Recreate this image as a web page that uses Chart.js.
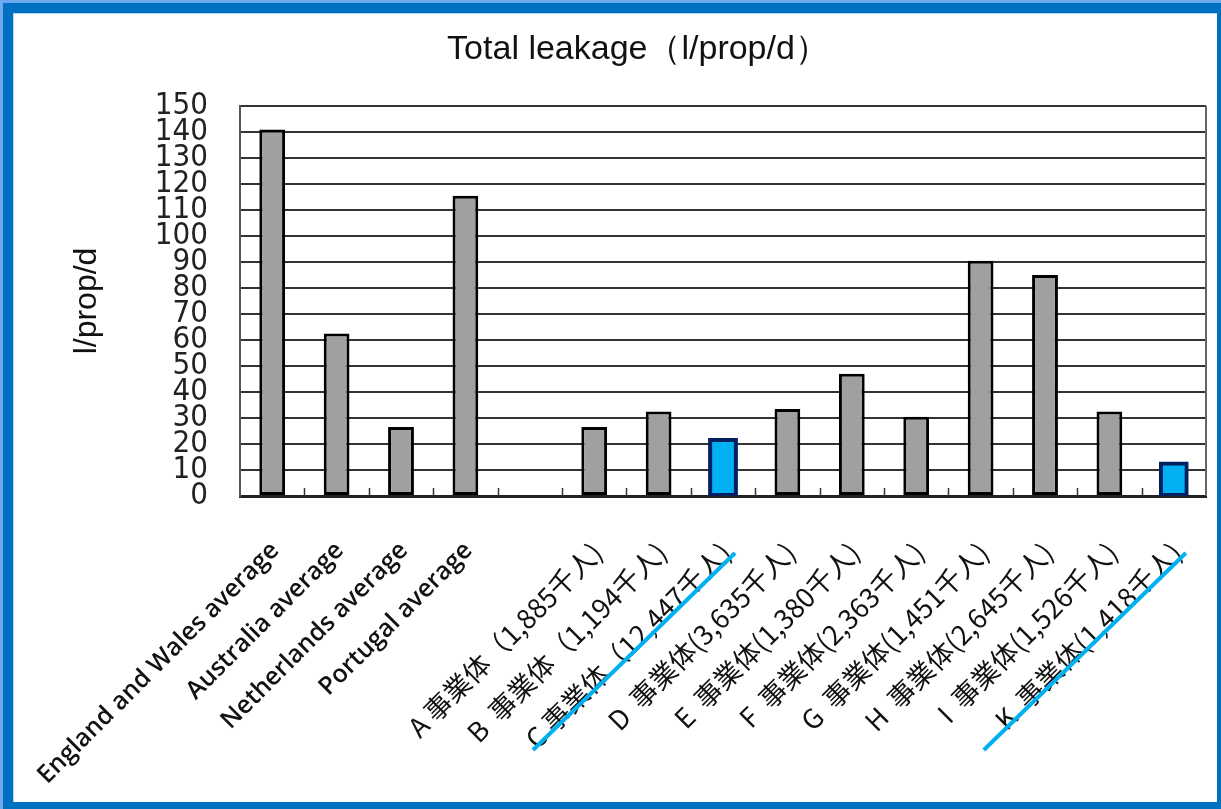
<!DOCTYPE html>
<html>
<head>
<meta charset="utf-8">
<title>Total leakage</title>
<script src="https://cdn.jsdelivr.net/npm/chart.js@4.4.1/dist/chart.umd.min.js"></script>
<style>
  html, body { margin: 0; padding: 0; background: #ffffff; }
  #frame { position: absolute; left: 0; top: 0; width: 1221px; height: 809px; background: #6fa8ee; }
  #panel {
    position: absolute; left: 3px; top: 3px; right: 0; bottom: 0;
    border-style: solid; border-color: #0070c0; border-width: 10px 4px 7px 10px;
    background: #ffffff;
  }
  #panel::before {
    content: ""; position: absolute; left: 0; top: 0; right: 0; bottom: 0;
    border-left: 1px solid #b7d3f3; border-top: 1px solid #b7d3f3;
  }
  #chart { position: absolute; left: 0; top: 0; }
</style>
</head>
<body>
<div id="frame"><div id="panel"></div></div>
<canvas id="chart" width="1221" height="809"></canvas>
<script>
// Total leakage per property per day (l/prop/d)
const categories = [
  'England and Wales average',
  'Australia average',
  'Netherlands average',
  'Portugal average',
  '',
  'A 事業体（1,885千人)',
  'B  事業体（1,194千人)',
  'C 事業体（12,447千人)',
  'D  事業体(3,635千人)',
  'E  事業体(1,380千人)',
  'F  事業体(2,363千人)',
  'G  事業体(1,451千人)',
  'H  事業体(2,645千人)',
  'I  事業体(1,526千人)',
  'K  事業体(1,418千人)'
];
const leakage = [141, 62.5, 26.5, 115.5, null, 26.5, 32.5, 21.5, 33.5, 47, 30.5, 90.5, 85, 32.5, 12.5];
const highlighted = ['C 事業体（12,447千人)', 'K  事業体(1,418千人)'];
const yMin = 0;
const yMax = 150;
const yStep = 10;

const titleText = 'Total leakage（l/prop/d）';
const yAxisTitle = 'l/prop/d';

const isHighlighted = (i) => highlighted.includes(categories[i]);
const hasCJK = (s) => /[\u3000-\u9fff\uff00-\uffef]/.test(s);

// Chart heading, drawn in the space reserved by the top layout padding.
const heading = {
  id: 'heading',
  afterDraw(chart) {
    const { ctx } = chart;
    ctx.save();
    ctx.fillStyle = '#111111';
    ctx.font = "normal 34px 'Liberation Sans', 'DejaVu Sans', sans-serif";
    ctx.textAlign = 'center';
    ctx.textBaseline = 'middle';
    ctx.fillText(titleText, 638, 50);
    ctx.restore();
  }
};

// Plot frame details: inner tick marks between categories, right edge,
// and the blue underline beneath highlighted category labels.
const frameDetails = {
  id: 'frameDetails',
  afterDatasetsDraw(chart) {
    const { ctx, chartArea } = chart;
    const x = chart.scales.x;
    ctx.save();
    ctx.strokeStyle = '#333333';
    ctx.lineWidth = 1.5;
    for (let i = 1; i < categories.length; i++) {
      const px = Math.round((x.getPixelForValue(i - 1) + x.getPixelForValue(i)) / 2) + 0.5;
      ctx.beginPath();
      ctx.moveTo(px, chartArea.bottom);
      ctx.lineTo(px, chartArea.bottom - 8);
      ctx.stroke();
    }
    ctx.strokeStyle = '#666666';
    ctx.lineWidth = 2;
    ctx.beginPath();
    ctx.moveTo(chartArea.right, chartArea.top);
    ctx.lineTo(chartArea.right, chartArea.bottom);
    ctx.stroke();
    ctx.restore();
  },
  afterDraw(chart) {
    const { ctx, chartArea } = chart;
    const x = chart.scales.x;
    ctx.save();
    ctx.strokeStyle = '#00b0f0';
    ctx.lineWidth = 4;
    categories.forEach((c, i) => {
      if (!isHighlighted(i)) return;
      const cx = x.getPixelForValue(i);
      ctx.beginPath();
      ctx.moveTo(cx - 190, chartArea.bottom + 254);
      ctx.lineTo(cx + 12, chartArea.bottom + 57);
      ctx.stroke();
    });
    ctx.restore();
  }
};

new Chart(document.getElementById('chart'), {
  type: 'bar',
  data: {
    labels: categories,
    datasets: [{
      label: 'Total leakage',
      data: leakage,
      backgroundColor: (c) => isHighlighted(c.dataIndex) ? '#00b0f0' : '#a0a0a0',
      borderColor: (c) => isHighlighted(c.dataIndex) ? '#002060' : '#000000',
      borderWidth: (c) => isHighlighted(c.dataIndex) ? 4 : 3,
      inflateAmount: (c) => isHighlighted(c.dataIndex) ? 2 : 0,
      borderSkipped: false,
      barPercentage: 0.4,
      categoryPercentage: 1.0
    }]
  },
  options: {
    responsive: false,
    animation: false,
    events: [],
    layout: { padding: { left: 0, right: 15, top: 106, bottom: 0 } },
    plugins: {
      legend: { display: false },
      tooltip: { enabled: false },
      title: { display: false }
    },
    scales: {
      x: {
        grid: {
          display: true,
          drawOnChartArea: false,
          drawTicks: true,
          tickLength: 40,
          tickColor: 'rgba(0,0,0,0)'
        },
        border: { display: true, color: '#222222', width: 3 },
        afterFit(scale) { scale.height = 313; },
        ticks: {
          autoSkip: false,
          minRotation: 45,
          maxRotation: 45,
          padding: 0,
          labelOffset: 3,
          color: '#111111',
          font: (c) => {
            const label = categories[c.index] || '';
            return hasCJK(label)
              ? { family: "'Noto Sans CJK JP', sans-serif", size: 27 }
              : { family: "'Open Sans', 'Noto Sans', sans-serif", size: 25, weight: 600 };
          }
        }
      },
      y: {
        min: yMin,
        max: yMax,
        afterFit(scale) { scale.width = 240; },
        grid: { color: '#333333', lineWidth: 2, drawTicks: false },
        border: { display: true, color: '#555555', width: 2 },
        title: {
          display: true,
          text: yAxisTitle,
          color: '#111111',
          font: { family: "'Liberation Sans', 'DejaVu Sans', sans-serif", size: 32, weight: 'normal' },
          padding: { top: 68, bottom: 0 }
        },
        ticks: {
          stepSize: yStep,
          autoSkip: false,
          padding: 32,
          color: '#222222',
          font: { family: "'Liberation Sans Narrow', 'DejaVu Sans Condensed', sans-serif", size: 31 }
        }
      }
    }
  },
  plugins: [frameDetails, heading]
});
</script>
</body>
</html>
